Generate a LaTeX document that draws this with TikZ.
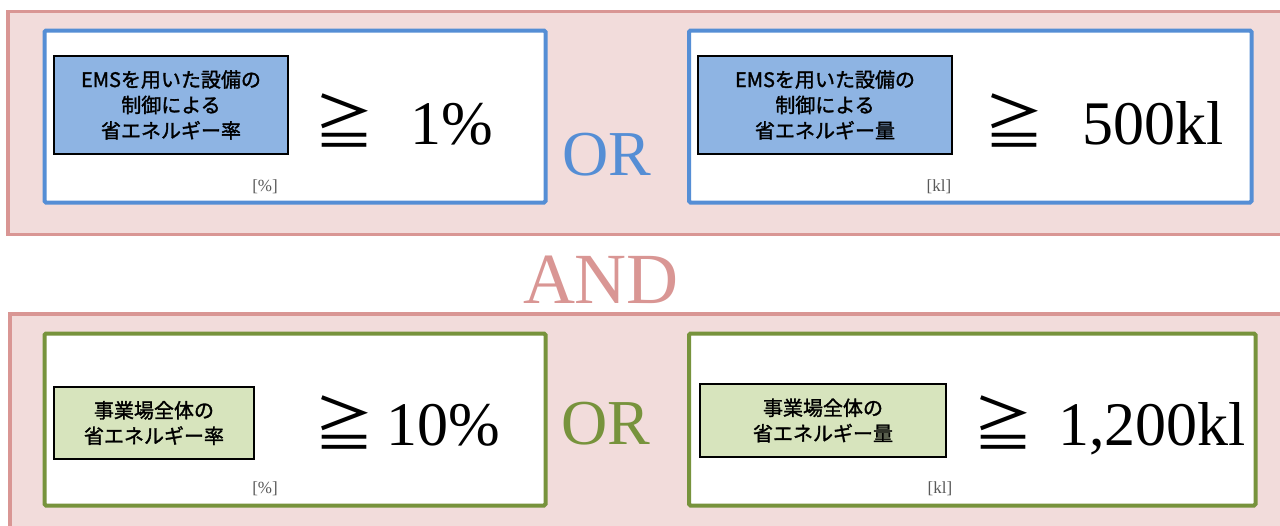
\documentclass[tikz,border=0pt]{standalone}
\usepackage{fontspec}
\setmainfont{Liberation Serif}
\newfontfamily\jpfont{Noto Sans CJK JP}
\newfontfamily\jpbold{Noto Sans CJK JP}[FakeBold=1.5]
\usepackage{tikz}
\usetikzlibrary{positioning}

\definecolor{pinkline}{HTML}{D99694}
\definecolor{pinkfill}{HTML}{F2DCDB}
\definecolor{blueline}{HTML}{558ED5}
\definecolor{bluelab}{HTML}{8EB4E3}
\definecolor{greenline}{HTML}{77933C}
\definecolor{greenlab}{HTML}{D7E4BD}
\definecolor{unitgray}{HTML}{595959}

\begin{document}
\begin{tikzpicture}[x=1pt, y=-1pt,
		group/.style={draw=pinkline, fill=pinkfill, line width=3.5pt},
		bluebox/.style={draw=blueline, fill=white, line width=4pt, rounded corners=1.5pt},
		greenbox/.style={draw=greenline, fill=white, line width=4pt, rounded corners=1.5pt},
		termbox/.style={draw=black, line width=1.2pt, align=center, inner sep=0pt,
			font=\jpbold\fontsize{20}{25.5}\selectfont},
		geqsign/.style={font=\jpfont\fontsize{60}{60}\selectfont, inner sep=0pt},
		amount/.style={font=\fontsize{62}{70}\selectfont, inner sep=0pt, anchor=base west},
		unittxt/.style={font=\fontsize{17}{18}\selectfont, text=unitgray, inner sep=0pt},
		optxt/.style={inner sep=0pt}]
		
		\useasboundingbox (0,0) rectangle (1280,525);
		
		% Groups
		\draw[group] (8,11.5) rectangle (1300,234.5);
		\draw[group] (10,314) rectangle (1300,545);
		
		% Condition boxes
		\draw[bluebox] (44.5,30.5) rectangle (545.5,202.5);
		\draw[bluebox] (689,30.5) rectangle (1251.5,202.5);
		\draw[greenbox] (44.5,333.5) rectangle (545.5,505.5);
		\draw[greenbox] (689,333.5) rectangle (1255.5,505.5);
		
		% EMS rate
		\node[termbox, fill=bluelab, minimum width=234pt, minimum height=98pt] (emsrate) at (171,105)
			{EMSを用いた設備の\\制御による\\省エネルギー率};
		\node[geqsign] (geqa) at (344,120) {≧};
		\node[amount] (vala) at (410,144) {1\%};
		\node[unittxt] (unita) at (265,187) {[\%]};
		
		% EMS amount
		\node[termbox, fill=bluelab, minimum width=254pt, minimum height=98pt] (emsamount) at (825,105)
			{EMSを用いた設備の\\制御による\\省エネルギー量};
		\node[geqsign] (geqb) at (1014,120) {≧};
		\node[amount] (valb) at (1082,144) {500kl};
		\node[unittxt] (unitb) at (939,187) {[kl]};
		
		% Site rate
		\node[termbox, fill=greenlab, minimum width=200pt, minimum height=72pt] (siterate) at (154,423)
			{事業場全体の\\省エネルギー率};
		\node[geqsign] (geqc) at (344,422) {≧};
		\node[amount] (valc) at (386,445) {10\%};
		\node[unittxt] (unitc) at (265,489) {[\%]};
		
		% Site amount
		\node[termbox, fill=greenlab, minimum width=246pt, minimum height=73pt] (siteamount) at (823,420.5)
			{事業場全体の\\省エネルギー量};
		\node[geqsign] (geqd) at (1003,422) {≧};
		\node[amount] (vald) at (1058,445) {1,200kl};
		\node[unittxt] (unitd) at (940,489) {[kl]};
		
		% OR / AND
		\node[optxt, text=blueline, font=\fontsize{64}{70}\selectfont] (ortop) at (607,155) {OR};
		\node[optxt, text=greenline, font=\fontsize{64}{70}\selectfont] (orbot) at (606,424) {OR};
		\node[optxt, text=pinkline, font=\fontsize{72}{80}\selectfont] (andop) at (601,280) {AND};
		
	\end{tikzpicture}
\end{document}
